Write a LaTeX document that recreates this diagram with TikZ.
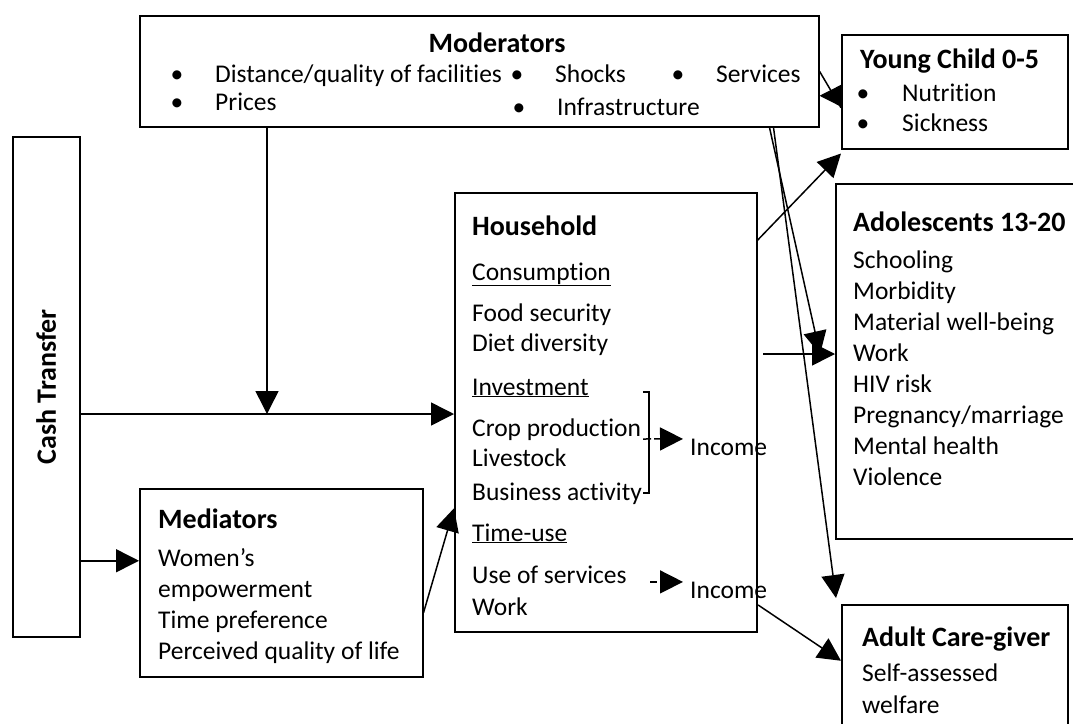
\documentclass[tikz,border=0pt]{standalone}
\usepackage{fontspec}
\setmainfont[Ligatures=NoCommon]{Carlito}
\usetikzlibrary{arrows.meta}
\usetikzlibrary{positioning}
\colorlet{penColor}{black}
\tikzset{
  box/.style={draw=penColor,line width=1.5pt,anchor=north west,inner sep=0pt},
  body/.style={anchor=base west,inner sep=0pt,font=\fontsize{25.5}{31}\selectfont},
  head/.style={anchor=base west,inner sep=0pt,font=\fontsize{28}{33}\selectfont\bfseries},
  link/.style={penColor,line width=1.5pt,-{Triangle[length=23pt,width=23pt]}},
  plain/.style={penColor,line width=1.5pt}}

\begin{document}
\begin{tikzpicture}[x=1pt,y=-1pt]
    \useasboundingbox (0,0) rectangle (1073,723);

    % boxes
    \node[box,minimum width=67pt,minimum height=500pt] (ct) at (12,136) {};
    \node[box,minimum width=679pt,minimum height=111pt] (mod) at (139,15) {};
    \node[box,minimum width=226pt,minimum height=114pt] (yc) at (841,34) {};
    \node[box,minimum width=245pt,minimum height=355pt] (ado) at (835,183) {};
    \node[box,minimum width=302pt,minimum height=439pt] (hh) at (454,192) {};
    \node[box,minimum width=283pt,minimum height=188pt] (med) at (139,488) {};
    \node[box,minimum width=226pt,minimum height=136pt] (acg) at (841,604) {};

    % cash transfer
    \node[head,anchor=center,rotate=90] (ctt) at (ct.center) {Cash Transfer};

    % moderators
    \node[head,anchor=base] (modt) at (497,52) {Moderators};
    \node[body,anchor=base] (mb1) at (177,82) {\textbullet};
    \node[body] (mi1) at (215,82) {Distance/quality of facilities};
    \node[body,anchor=base] (mb2) at (177,110) {\textbullet};
    \node[body] (mi2) at (215,110) {Prices};
    \node[body,anchor=base] (mb3) at (517,82) {\textbullet};
    \node[body] (mi3) at (555,82) {Shocks};
    \node[body,anchor=base] (mb4) at (678,82) {\textbullet};
    \node[body] (mi4) at (716,82) {Services};
    \node[body,anchor=base] (mb5) at (519,115) {\textbullet};
    \node[body] (mi5) at (557,115) {Infrastructure};

    % young child
    \node[head] (yct) at (860,68) {Young Child 0-5};
    \node[body,anchor=base] (ycb1) at (863,101) {\textbullet};
    \node[body] (yci1) at (902,101) {Nutrition};
    \node[body,anchor=base] (ycb2) at (863,131) {\textbullet};
    \node[body] (yci2) at (902,131) {Sickness};

    % adolescents
    \node[head] (adot) at (853,231) {Adolescents 13-20};
    \foreach \txt [count=\i] in {Schooling,Morbidity,Material well-being,Work,
      HIV risk,Pregnancy/marriage,Mental health,Violence}
      \node[body] (ado\i) at (853,237+31*\i) {\txt};

    % household
    \node[head] (hht) at (472,235) {Household};
    \foreach \yy/\txt [count=\i] in {280/{\underline{Consumption}},321/{Food security},
      351/{Diet diversity},395/{\underline{Investment}},436/{Crop production},
      466/{Livestock},500/{Business activity},541/{\underline{Time-use}},
      583/{Use of services},615/{Work}}
      \node[body] (hh\i) at (472,\yy) {\txt};

    % mediators
    \node[head] (medt) at (158,528) {Mediators};
    \foreach \txt [count=\i] in {Women’s,empowerment,Time preference,Perceived quality of life}
      \node[body] (med\i) at (158,535+31*\i) {\txt};

    % adult care-giver
    \node[head] (acgt) at (862,646) {Adult Care-giver};
    \node[body] (acg1) at (862,681) {Self-assessed};
    \node[body] (acg2) at (862,713) {welfare};

    % income
    \node[body] (inc1) at (690,455) {Income};
    \node[body] (inc2) at (690,598) {Income};
    \coordinate (brk) at (649,439);
    \draw[plain] (643,392) -- (649,392) -- (649,493) -- (643,493);
    \draw[link,dash pattern=on 8pt off 3pt] ([xshift=-6pt]brk) -- ([xshift=-7pt,yshift=8pt]inc1.west);
    \draw[link,dash pattern=on 7pt off 5pt] ([xshift=-40pt,yshift=8pt]inc2.west) -- ([xshift=-7pt,yshift=8pt]inc2.west);

    % connectors
    \coordinate (jn) at (267,414);
    \draw[link] (ct.east |- jn) -- (jn -| hh.west);
    \draw[link] (mod.south -| jn) -- (jn);
    \coordinate (mj) at ([yshift=22pt]med.west);
    \draw[link] (mj -| ct.east) -- (mj);
    \draw[link] ([yshift=-30pt]med.east) -- ([yshift=-96pt]hh.west);
    \draw[link] ([yshift=172pt]hh.east) -- ([yshift=-4pt]yc.south west);
    \coordinate (wk) at (763,354);
    \draw[link] (wk) -- (wk -| ado.west);
    \draw[plain] (mod.east) -- ([yshift=-16pt]yc.west);
    \coordinate (yt) at ([yshift=-4pt]yc.west);
    \draw[link] (yt) -- (yt -| mod.east);
    \draw[link] ([xshift=-50pt]mod.south east) -- ([xshift=-15pt,yshift=7pt]ado.west);
    \draw[link] ([xshift=-46pt]mod.south east) -- ([xshift=-5pt,yshift=6pt]acg.north west);
    \draw[link] ([xshift=68pt,yshift=-15pt]inc2.west) -- ([yshift=12pt]acg.west);
\end{tikzpicture}
\end{document}
